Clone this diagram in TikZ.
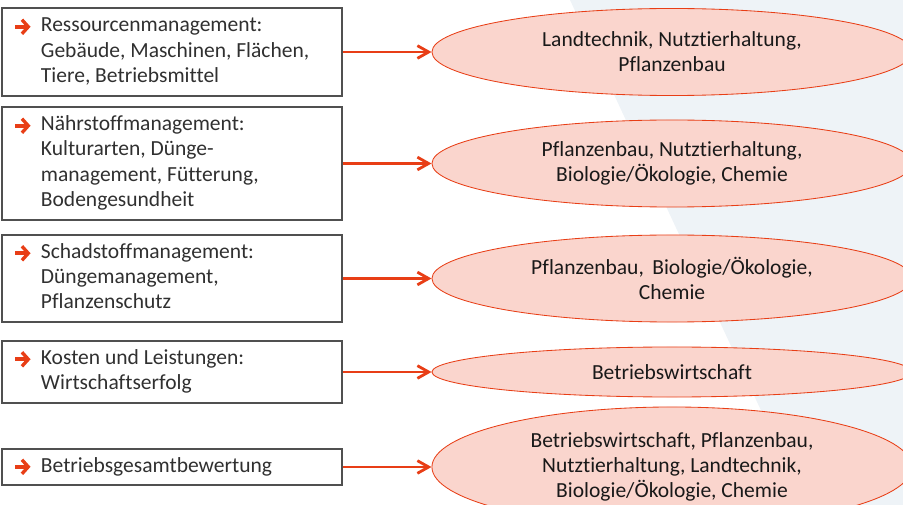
\documentclass[tikz,border=0pt]{standalone}
\usepackage{fontspec}
\setmainfont{Carlito}[Ligatures=NoCommon]
\usetikzlibrary{shapes.geometric,arrows.meta}
\definecolor{pfeilrot}{RGB}{232,62,22}
\definecolor{ellfill}{RGB}{250,213,205}
\definecolor{hgrund}{RGB}{238,243,247}
\definecolor{boxgrau}{RGB}{80,80,80}
\definecolor{textgrau}{RGB}{48,48,48}
\newcommand{\pfeil}{\makebox[19.9pt][l]{\tikz[baseline={(0,-3.7pt)}]\draw[pfeilrot,line width=3pt,-{Straight Barb[length=4.5pt,width=10pt,line width=2.4pt]}] (0,0) -- (11pt,0);}}
\newcommand{\punkt}[1]{\spaceskip=0pt\xspaceskip=0pt\pfeil\begin{tabular}[t]{@{}l@{}}#1\end{tabular}}
\tikzset{
  quelle/.style={draw=boxgrau,line width=0.9pt,rectangle,text width=7.95cm,inner xsep=0.275cm,inner ysep=0pt,text=textgrau},
  fach/.style={draw=pfeilrot,line width=0.6pt,fill=ellfill,ellipse,minimum width=12cm,inner sep=0pt,align=center,text=black!90},
  verbind/.style={draw=pfeilrot,line width=2.1pt,-{Straight Barb[length=8pt,width=9pt,line width=2pt]}}
}
\begin{document}
\begin{tikzpicture}[x=0.025cm,y=-0.025cm,font=\fontsize{15.3}{17.8}\selectfont]
\useasboundingbox (0,0) rectangle (903,505);
% Hintergrund
\fill[hgrund] (570,0) -- (903,0) -- (903,505) -- (805,505) -- cycle;

\node[quelle,minimum height=2.2cm] (b1) at (172,52) {\punkt{Ressourcenmanagement:\\Gebäude, Maschinen, Flächen,\\Tiere, Betriebsmittel}};
\node[quelle,minimum height=2.825cm] (b2) at (172,163.5) {\punkt{Nährstoffmanagement:\\Kulturarten, Dünge-\\management, Fütterung,\\Bodengesundheit}};
\node[quelle,minimum height=2.175cm] (b3) at (172,278.5) {\punkt{Schadstoffmanagement:\\Düngemanagement,\\Pflanzenschutz}};
\node[quelle,minimum height=1.55cm] (b4) at (172,372) {\punkt{Kosten und Leistungen:\\Wirtschaftserfolg}};
\node[quelle,minimum height=0.9cm] (b5) at (172,467) {\punkt{Betriebsgesamtbewertung}};

\node[fach,minimum height=2.175cm] (e1) at (672,52) {Landtechnik, Nutztierhaltung,\\Pflanzenbau};
\node[fach,minimum height=2.175cm] (e2) at (672,163.5) {Pflanzenbau, Nutztierhaltung,\\Biologie/Ökologie, Chemie};
\node[fach,minimum height=2.175cm] (e3) at (672,278.5) {Pflanzenbau, \,Biologie/Ökologie,\\Chemie};
\node[fach,minimum height=1.25cm] (e4) at (672,372) {Betriebswirtschaft};
\node[fach,minimum height=3cm] (e5) at (672,467) {Betriebswirtschaft, Pflanzenbau,\\Nutztierhaltung, Landtechnik,\\Biologie/Ökologie, Chemie};

\foreach \i in {1,...,5}
  \draw[verbind] (b\i) -- (e\i);
\end{tikzpicture}
\end{document}
